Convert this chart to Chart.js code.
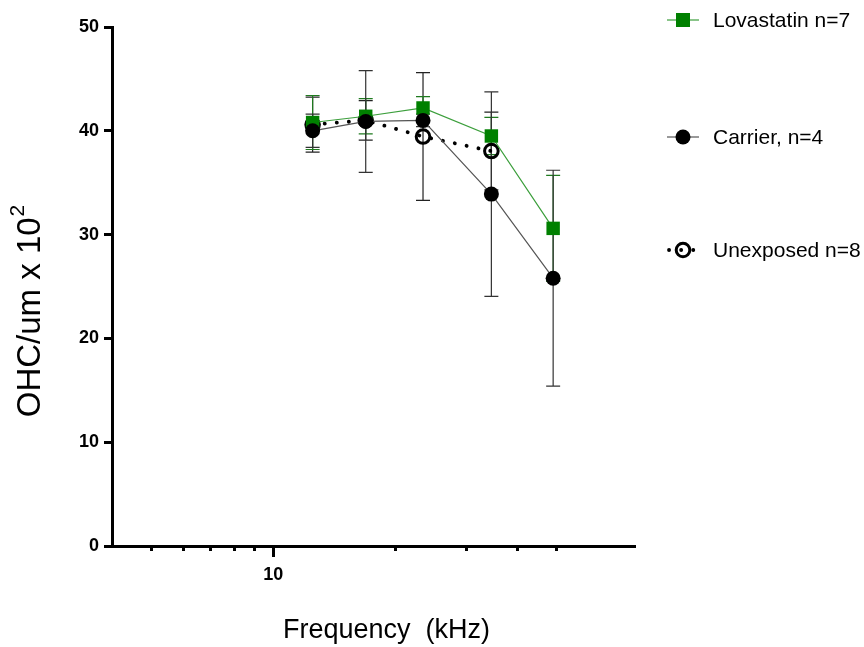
<!DOCTYPE html>
<html><head><meta charset="utf-8">
<script src="https://cdn.jsdelivr.net/npm/chart.js@4"></script>
<style>html,body{margin:0;padding:0;background:#fff}#wrap{width:864px;height:647px;position:relative}</style>
</head><body><div id="wrap"><canvas id="c" width="864" height="647"></canvas></div>
<script>
// ---- data ----
const frequencies = [12.5, 16.9, 23.4, 34.5, 49.0];          // kHz
const lovastatin = [40.8, 41.4, 42.2, 39.5, 30.6];
const lovastatinErr = [2.6, 1.7, 1.1, 1.8, 5.1];
const carrier = [40.0, 40.9, 41.0, 33.9, 25.8];
const carrierErr = [1.6, 4.9, 0.6, 9.85, 10.4];
const unexposed = [40.6, 41.0, 39.45, 38.05];
const unexposedErr = [2.65, 1.9, 6.15, 3.75];
const seriesNames = ['Lovastatin n=7', 'Carrier, n=4', 'Unexposed n=8'];
const xTickValues = [5, 6, 7, 8, 9, 10, 20, 30, 40, 50];
const xLabelled = [10];
const yTickValues = [0, 10, 20, 30, 40, 50];
const xTitle = 'Frequency  (kHz)';
const yTitle = 'OHC/um x 10';
const yTitleSup = '2';

const FONT = 'Arial, "Liberation Sans", sans-serif';
const pts = (ys) => ys.map((y, i) => ({x: frequencies[i], y}));
const errs = [lovastatinErr, carrierErr, unexposedErr];

const errorBars = {
  id: 'errorBars',
  beforeDatasetsDraw(chart) {
    const ctx = chart.ctx, xs = chart.scales.x, ys = chart.scales.y;
    chart.data.datasets.forEach((ds) => {
      const e = errs[ds.errIndex];
      ctx.save();
      ctx.strokeStyle = ds.errColor; ctx.lineWidth = 1.2;
      ds.data.forEach((p, i) => {
        const x = xs.getPixelForValue(p.x);
        const y1 = ys.getPixelForValue(p.y + e[i]), y2 = ys.getPixelForValue(p.y - e[i]);
        ctx.beginPath();
        ctx.moveTo(x, y1); ctx.lineTo(x, y2);
        ctx.moveTo(x - 7, y1); ctx.lineTo(x + 7, y1);
        ctx.moveTo(x - 7, y2); ctx.lineTo(x + 7, y2);
        ctx.stroke();
      });
      ctx.restore();
    });
  }
};

const extras = {
  id: 'extras',
  afterDraw(chart) {
    const ctx = chart.ctx, xs = chart.scales.x, ys = chart.scales.y;
    // longer major tick on the x axis
    ctx.save(); ctx.strokeStyle = '#000'; ctx.lineWidth = 3;
    xLabelled.forEach(v => {
      const x = Math.round(xs.getPixelForValue(v)) + 0.5;
      ctx.beginPath(); ctx.moveTo(x, xs.top); ctx.lineTo(x, xs.top + 11); ctx.stroke();
    });
    ctx.restore();
    // axis titles
    ctx.save();
    ctx.fillStyle = '#000'; ctx.textBaseline = 'middle'; ctx.textAlign = 'center';
    ctx.font = '27px ' + FONT;
    ctx.fillText(xTitle, (xs.left + xs.right) / 2 + 13, 631);
    ctx.translate(31, (ys.top + ys.bottom) / 2 + 25);
    ctx.rotate(-Math.PI / 2);
    ctx.font = '33px ' + FONT;
    const w = ctx.measureText(yTitle).width;
    ctx.font = '21px ' + FONT;
    const ws = ctx.measureText(yTitleSup).width;
    const start = -(w + ws) / 2;
    ctx.textAlign = 'left';
    ctx.font = '33px ' + FONT;
    ctx.fillText(yTitle, start, 0);
    ctx.font = '21px ' + FONT;
    ctx.fillText(yTitleSup, start + w + 1, -13);
    ctx.restore();
    // legend
    const order = [1, 2, 0]; // Lovastatin, Carrier, Unexposed
    const rowsY = [20, 137, 250];
    order.forEach((di, r) => {
      const ds = chart.data.datasets[di];
      const y = rowsY[r], cx = 683;
      ctx.save();
      ctx.strokeStyle = ds.borderColor; ctx.lineWidth = ds.borderWidth;
      ctx.lineCap = ds.borderCapStyle || 'butt';
      if (ds.borderDash) ctx.setLineDash(ds.borderDash);
      ctx.beginPath(); ctx.moveTo(ds.borderDash ? 669 : 667, y); ctx.lineTo(ds.borderDash ? 694 : 699, y); ctx.stroke();
      ctx.setLineDash([]);
      ctx.fillStyle = ds.pointBackgroundColor; ctx.strokeStyle = ds.pointBorderColor; ctx.lineWidth = ds.pointBorderWidth;
      if (ds.pointStyle === 'rect') {
        ctx.fillRect(cx - 7, y - 7, 14, 14);
      } else {
        ctx.beginPath(); ctx.arc(cx, y, ds.pointRadius, 0, Math.PI * 2);
        ctx.fill(); if (ds.pointBorderWidth) ctx.stroke();
      }
      ctx.fillStyle = '#000'; ctx.font = '21px ' + FONT; ctx.textBaseline = 'middle';
      ctx.fillText(ds.label, 713, y + 1);
      ctx.restore();
    });
  }
};

new Chart(document.getElementById('c'), {
  type: 'line',
  data: {
    datasets: [
      {label: seriesNames[2], data: pts(unexposed), errIndex: 2, order: 3,
       borderColor: '#000', borderWidth: 3.8, borderDash: [0.1, 12], borderCapStyle: 'round',
       pointStyle: 'circle', pointRadius: 6.8, pointBorderWidth: 3, pointBorderColor: '#000',
       pointBackgroundColor: 'rgba(0,0,0,0)', errColor: '#222'},
      {label: seriesNames[0], data: pts(lovastatin), errIndex: 0, order: 2,
       borderColor: '#3c9f3c', borderWidth: 1.2,
       pointStyle: 'rect', pointRadius: 9.5, pointBorderWidth: 0, pointBorderColor: '#008000',
       pointBackgroundColor: '#008000', errColor: '#1f7a1f'},
      {label: seriesNames[1], data: pts(carrier), errIndex: 1, order: 1,
       borderColor: '#555', borderWidth: 1.2,
       pointStyle: 'circle', pointRadius: 7.5, pointBorderWidth: 0, pointBorderColor: '#000',
       pointBackgroundColor: '#000', errColor: '#333'}
    ]
  },
  options: {
    responsive: false, animation: false,
    layout: {padding: {left: 0, top: 27, right: 229, bottom: 0}},
    plugins: {legend: {display: false}, tooltip: {enabled: false}},
    scales: {
      x: {
        type: 'logarithmic', min: 4, max: 78,
        afterBuildTicks(s) { s.ticks = xTickValues.map(v => ({value: v, major: v === 10})); },
        afterFit(s) { s.height = 101; },
        border: {display: true, width: 3, color: '#000'},
        grid: {display: true, drawOnChartArea: false, drawTicks: true, tickLength: 5, tickWidth: 3, tickColor: '#000'},
        ticks: {autoSkip: false, maxRotation: 0, padding: 13, color: '#000',
          font: {family: FONT, size: 18, weight: 'bold'},
          callback: (v) => xLabelled.includes(v) ? String(v) : ''},
        title: {display: false}
      },
      y: {
        min: 0, max: 50,
        afterBuildTicks(s) { s.ticks = yTickValues.map(v => ({value: v})); },
        afterFit(s) { s.width = 112; },
        border: {display: true, width: 3, color: '#000'},
        grid: {display: true, drawOnChartArea: false, drawTicks: true, tickLength: 8, tickWidth: 3, tickColor: '#000'},
        ticks: {padding: 5, color: '#000', font: {family: FONT, size: 18, weight: 'bold'}},
        title: {display: false}
      }
    }
  },
  plugins: [errorBars, extras]
});
</script></body></html>
